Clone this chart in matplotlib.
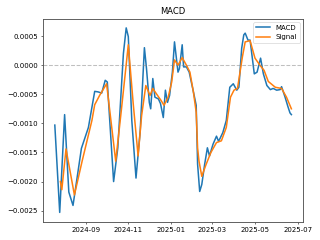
import matplotlib
matplotlib.use("Agg")
import matplotlib.pyplot as plt
import pandas as pd

macd_dates = [
    "2024-07-19", "2024-07-26", "2024-08-02", "2024-08-08", "2024-08-14", "2024-08-21",
    "2024-08-26", "2024-09-05", "2024-09-14", "2024-09-19", "2024-09-24", "2024-09-29",
    "2024-10-02", "2024-10-11", "2024-10-17", "2024-10-25", "2024-10-29", "2024-11-01",
    "2024-11-06", "2024-11-12", "2024-11-18", "2024-11-24", "2024-11-27", "2024-12-01",
    "2024-12-03", "2024-12-06", "2024-12-09", "2024-12-14", "2024-12-17", "2024-12-21",
    "2024-12-24", "2024-12-27", "2024-12-30", "2025-01-03", "2025-01-06", "2025-01-11",
    "2025-01-13", "2025-01-17", "2025-01-19", "2025-01-23", "2025-01-27", "2025-02-01",
    "2025-02-06", "2025-02-08", "2025-02-11", "2025-02-14", "2025-02-18", "2025-02-22",
    "2025-02-25", "2025-03-02", "2025-03-07", "2025-03-10", "2025-03-16", "2025-03-21",
    "2025-03-26", "2025-03-31", "2025-04-05", "2025-04-08", "2025-04-12", "2025-04-15",
    "2025-04-17", "2025-04-21", "2025-04-24", "2025-04-30", "2025-05-04", "2025-05-09",
    "2025-05-13", "2025-05-18", "2025-05-23", "2025-05-27", "2025-06-01", "2025-06-06",
    "2025-06-08", "2025-06-13", "2025-06-17", "2025-06-20", "2025-06-22",
]
macd_values = [
    -0.00103, -0.00253, -0.00085, -0.00218, -0.00241, -0.00184,
    -0.00143, -0.00107, -0.00045, -0.00046, -0.00048, -0.00026,
    -0.00029, -0.00200, -0.00142, 0.00020, 0.00064, 0.00049,
    -0.00095, -0.00194, -0.00113, 0.00030, -0.00006, -0.00064,
    -0.00075, -0.00023, -0.00055, -0.00058, -0.00066, -0.00090,
    -0.00043, -0.00064, -0.00052, -0.00012, 0.00040, -0.00012,
    -0.00006, 0.00035, -0.00003, -0.00003, -0.00012, -0.00040,
    -0.00069, -0.00170, -0.00217, -0.00205, -0.00171, -0.00142,
    -0.00156, -0.00136, -0.00122, -0.00131, -0.00116, -0.00095,
    -0.00038, -0.00032, -0.00043, -0.00038, 0.00029, 0.00052,
    0.00055, 0.00043, 0.00043, -0.00015, -0.00012, 0.00012,
    -0.00015, -0.00035, -0.00042, -0.00040, -0.00043, -0.00042,
    -0.00037, -0.00055, -0.00071, -0.00082, -0.00085,
]

signal_dates = [
    "2024-07-27", "2024-07-29", "2024-08-04", "2024-08-16", "2024-08-27", "2024-09-10",
    "2024-09-14", "2024-09-21", "2024-10-01", "2024-10-14", "2024-10-22", "2024-11-01",
    "2024-11-08", "2024-11-15", "2024-11-20", "2024-11-26", "2024-12-02", "2024-12-06",
    "2024-12-11", "2024-12-18", "2024-12-22", "2024-12-28", "2025-01-02", "2025-01-06",
    "2025-01-11", "2025-01-17", "2025-01-23", "2025-01-28", "2025-02-02", "2025-02-06",
    "2025-02-08", "2025-02-10", "2025-02-14", "2025-02-20", "2025-02-27", "2025-03-07",
    "2025-03-14", "2025-03-21", "2025-03-27", "2025-04-01", "2025-04-06", "2025-04-13",
    "2025-04-17", "2025-04-24", "2025-05-01", "2025-05-08", "2025-05-14", "2025-05-20",
    "2025-05-30", "2025-06-08", "2025-06-15", "2025-06-22",
]
signal_values = [
    -0.00200, -0.00214, -0.00144, -0.00223, -0.00165, -0.00095,
    -0.00068, -0.00052, -0.00032, -0.00165, -0.00078, 0.00035,
    -0.00066, -0.00156, -0.00087, -0.00035, -0.00052, -0.00040,
    -0.00049, -0.00061, -0.00069, -0.00055, -0.00029, 0.00009,
    0.00000, 0.00013, 0.00000, -0.00012, -0.00046, -0.00081,
    -0.00142, -0.00165, -0.00191, -0.00171, -0.00150, -0.00133,
    -0.00130, -0.00107, -0.00055, -0.00043, -0.00040, 0.00014,
    0.00040, 0.00042, 0.00012, 0.00000, -0.00009, -0.00028,
    -0.00038, -0.00040, -0.00055, -0.00075,
]

fig, ax = plt.subplots(figsize=(6.4, 4.8), dpi=50)
ax.plot(pd.to_datetime(macd_dates), macd_values, label="MACD", color="#1f77b4", linewidth=2.2)
ax.plot(pd.to_datetime(signal_dates), signal_values, label="Signal", color="#ff7f0e", linewidth=2.2)
ax.axhline(0, color="gray", linestyle="--", alpha=0.5, linewidth=1.5)
ax.set_title("MACD")
ax.legend(loc="upper right")
for s in ax.spines.values():
    s.set_color("#555555")
    s.set_linewidth(1.3)
fig.tight_layout()
fig.savefig("out.png", dpi=50)
